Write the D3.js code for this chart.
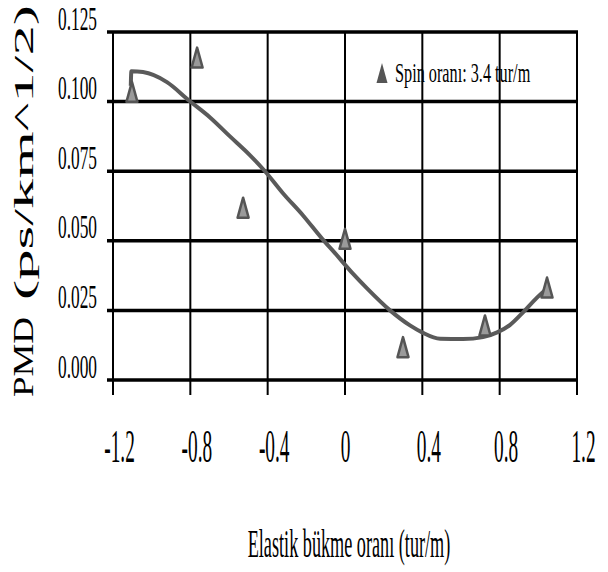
<!DOCTYPE html>
<html>
<head>
<meta charset="utf-8">
<script src="https://cdn.jsdelivr.net/npm/d3@7"></script>
<style>
  html, body { margin: 0; padding: 0; background: #fff; }
  svg { display: block; }
  text { font-family: "Liberation Serif", "Times New Roman", serif; fill: #000; }
</style>
</head>
<body>
<div id="chart"></div>
<script>
// ---------- Data ----------
const xTicks = [-1.2, -0.8, -0.4, 0, 0.4, 0.8, 1.2];
const xTickLabels = ["-1.2", "-0.8", "-0.4", "0", "0.4", "0.8", "1.2"];
const yTicks = [0, 0.025, 0.05, 0.075, 0.1, 0.125];
const yTickLabels = ["0.000", "0.025", "0.050", "0.075", "0.100", "0.125"];

// measured points (Spin oranı: 3.4 tur/m)
const pointX = [-1.102, -0.765, -0.527, 0.0, 0.3, 0.724, 1.045];
const pointY = [0.1035, 0.1158, 0.0619, 0.0507, 0.0118, 0.0196, 0.0332];

// fitted curve
const fitX = [-1.108, -1.105, -1.045, -0.921, -0.807, -0.698, -0.595, -0.491, -0.414,
  -0.321, -0.217, -0.119, -0.062, 0.041, 0.114, 0.233, 0.336, 0.399, 0.492, 0.611,
  0.714, 0.787, 0.854, 0.921, 0.993, 1.045];
const fitY = [0.1057, 0.1109, 0.1106, 0.107, 0.1004, 0.0943, 0.0875, 0.0807, 0.075,
  0.0671, 0.0591, 0.0508, 0.0464, 0.0382, 0.0329, 0.025, 0.0196, 0.0171, 0.0148, 0.0147,
  0.0154, 0.0171, 0.0198, 0.0243, 0.0296, 0.0329];

const legendLabel = "Spin oranı: 3.4 tur/m";
const xTitle = "Elastik bükme oranı (tur/m)";

// ---------- Chart ----------
const W = 608, H = 572;
const svg = d3.select("#chart").append("svg").attr("width", W).attr("height", H);

const x = d3.scaleLinear().domain([-1.2, 1.2]).range([113, 577]);
const y = d3.scaleLinear().domain([0, 0.125]).range([380, 32]);

// vertical grid + tick marks below the plot
svg.append("g")
  .selectAll("line")
  .data(xTicks)
  .enter()
  .append("line")
  .attr("x1", (d) => x(d))
  .attr("x2", (d) => x(d))
  .attr("y1", y(0.125))
  .attr("y2", y(0) + 15)
  .attr("stroke", "#000")
  .attr("stroke-width", 2);

// horizontal grid, thicker
svg.append("g")
  .selectAll("line")
  .data(yTicks)
  .enter()
  .append("line")
  .attr("x1", x(-1.2) - 6)
  .attr("x2", x(1.2) + 1)
  .attr("y1", (d) => y(d))
  .attr("y2", (d) => y(d))
  .attr("stroke", "#000")
  .attr("stroke-width", 3.5);

// y tick labels (axis, condensed serif)
const yAxis = svg.append("g")
  .attr("transform", `translate(${x(-1.2) - 16}, 0)`)
  .call(d3.axisLeft(y).tickValues(yTicks).tickSize(0).tickFormat((d, i) => yTickLabels[i]));
yAxis.select(".domain").remove();
yAxis.selectAll("text")
  .attr("x", -39)
  .attr("dy", null)
  .attr("y", -3)
  .attr("text-anchor", "start")
  .attr("font-family", "Liberation Serif")
  .attr("font-size", 34)
  .attr("textLength", 39)
  .attr("lengthAdjust", "spacingAndGlyphs");

// x tick labels
const xAxis = svg.append("g")
  .attr("transform", `translate(0, 462)`)
  .call(d3.axisBottom(x).tickValues(xTicks).tickSize(0).tickFormat((d, i) => xTickLabels[i]));
xAxis.select(".domain").remove();
xAxis.selectAll(".tick text")
  .attr("y", 0)
  .attr("dy", null)
  .attr("font-family", "Liberation Serif")
  .attr("font-size", 46)
  .attr("transform", (d) => `translate(${d === 0 ? 0 : 6}, 0) scale(0.42, 1)`);

// fitted curve
const line = d3.line()
  .x((d, i) => x(fitX[i]))
  .y((d) => y(d))
  .curve(d3.curveMonotoneX);
svg.append("path")
  .datum(fitY)
  .attr("d", line)
  .attr("fill", "none")
  .attr("stroke", "#5a5a5a")
  .attr("stroke-width", 4)
  .attr("stroke-linejoin", "round");

// triangle markers
const tri = "M0,-10L5.5,10L-5.5,10Z";
svg.append("g")
  .selectAll("path")
  .data(pointY)
  .enter()
  .append("path")
  .attr("d", tri)
  .attr("transform", (d, i) => `translate(${x(pointX[i])}, ${y(d)})`)
  .attr("fill", "#9a9a9a")
  .attr("stroke", "#555")
  .attr("stroke-width", 2.5)
  .attr("stroke-linejoin", "round");

// legend
svg.append("path")
  .attr("d", tri)
  .attr("transform", "translate(382, 73)")
  .attr("fill", "#555");
svg.append("text")
  .attr("transform", "translate(395, 82) scale(0.58, 1)")
  .attr("font-size", 28)
  .text(legendLabel);

// axis titles
svg.append("text")
  .attr("transform", "translate(349, 557) scale(0.455, 1)")
  .attr("text-anchor", "middle")
  .attr("font-size", 40)
  .text(xTitle);

svg.append("text")
  .attr("transform", "translate(33, 397) rotate(-90)")
  .attr("font-size", 30)
  .attr("textLength", 80)
  .attr("lengthAdjust", "spacingAndGlyphs")
  .text("PMD");
svg.append("text")
  .attr("transform", "translate(33, 300) rotate(-90)")
  .attr("font-size", 27)
  .attr("textLength", 295)
  .attr("lengthAdjust", "spacingAndGlyphs")
  .text("(ps/km^1/2)");
</script>
</body>
</html>
